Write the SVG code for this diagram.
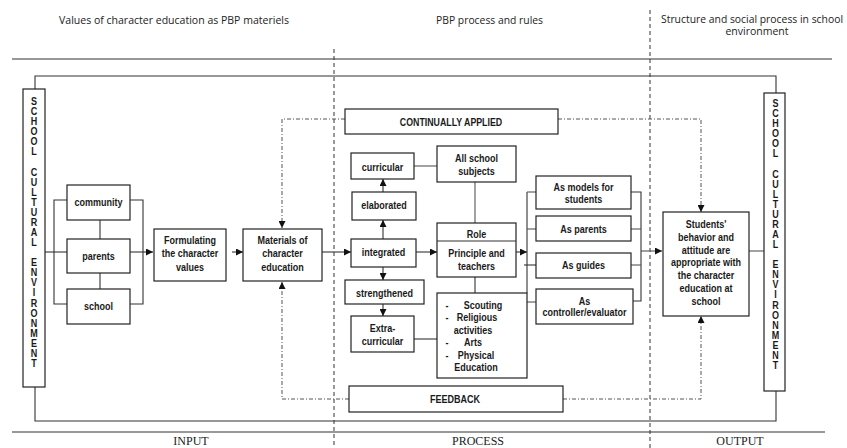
<svg xmlns="http://www.w3.org/2000/svg" width="847" height="448" viewBox="0 0 847 448">
<style>
.bg{fill:#fff}
.box{fill:#fff;stroke:#222;stroke-width:1.2}
.ln{fill:none;stroke:#333;stroke-width:1.1}
.lg{fill:none;stroke:#555;stroke-width:1.1}
.dd{fill:none;stroke:#555;stroke-width:1;stroke-dasharray:4,2,1,2}
.dv{fill:none;stroke:#333;stroke-width:1;stroke-dasharray:4,3}
.t{font-family:"Liberation Sans",Arial,sans-serif;font-weight:bold;font-size:11px;fill:#1a1a1a;text-anchor:middle}
.v{font-family:"Liberation Sans",Arial,sans-serif;font-weight:bold;font-size:10px;fill:#1a1a1a;text-anchor:middle}
.h{font-family:"Open Sans","Noto Sans",sans-serif;font-size:10.5px;fill:#222}
.f{font-family:"Liberation Serif","Times New Roman",serif;font-size:12px;fill:#222;text-anchor:middle}
</style>
<defs>
<marker id="ah" viewBox="0 0 10 10" refX="10" refY="5" markerWidth="8" markerHeight="7" markerUnits="userSpaceOnUse" orient="auto"><path d="M0,0 L10,5 L0,10 z" fill="#111"/></marker>
</defs>
<rect class="bg" x="0" y="0" width="847" height="448"/>

<g id="headers">
<text class="h" x="59" y="24" textLength="230" lengthAdjust="spacingAndGlyphs">Values of character education as PBP materiels</text>
<text class="h" x="436" y="24" textLength="107" lengthAdjust="spacingAndGlyphs">PBP process and rules</text>
<text class="h" x="661" y="23" textLength="182" lengthAdjust="spacingAndGlyphs">Structure and social process in school</text>
<text class="h" x="757" y="34.5" text-anchor="middle">environment</text>
<text class="f" x="191" y="445">INPUT</text>
<text class="f" x="478" y="445">PROCESS</text>
<text class="f" x="740" y="445">OUTPUT</text>
</g>

<g id="frame">
<line class="ln" x1="12" y1="59" x2="832" y2="59"/>
<line class="ln" x1="12" y1="432" x2="825" y2="432"/>
<line class="dv" x1="334" y1="49" x2="334" y2="448"/>
<line class="dv" x1="650" y1="10" x2="650" y2="448"/>
</g>

<g id="connectors">
<polyline class="ln" points="35,89 35,76 776,76 776,93"/>
<polyline class="ln" points="35,387 35,421 776,421 776,391"/>
<line class="ln" x1="45" y1="252" x2="67" y2="252"/>
<polyline class="ln" points="67,200 54,200 54,304 67,304"/>
<polyline class="ln" points="130,200 143,200 143,304 130,304"/>
<line class="ln" x1="100" y1="220" x2="100" y2="239"/>
<line class="ln" x1="100" y1="273" x2="100" y2="289"/>
<line class="ln" x1="130" y1="252" x2="153" y2="252" marker-end="url(#ah)"/>
<line class="ln" x1="232" y1="252" x2="243" y2="252" marker-end="url(#ah)"/>
<line class="ln" x1="322" y1="252" x2="351" y2="252" marker-end="url(#ah)"/>
<line class="ln" x1="383" y1="239" x2="383" y2="220" marker-end="url(#ah)"/>
<line class="ln" x1="383" y1="192" x2="383" y2="179" marker-end="url(#ah)"/>
<line class="ln" x1="383" y1="267" x2="383" y2="280" marker-end="url(#ah)"/>
<line class="ln" x1="383" y1="304" x2="383" y2="316" marker-end="url(#ah)"/>
<line class="ln" x1="416" y1="252" x2="437" y2="252" marker-end="url(#ah)"/>
<line class="lg" x1="414" y1="166" x2="437" y2="166"/>
<line class="lg" x1="475" y1="182" x2="475" y2="223"/>
<line class="ln" x1="475" y1="277" x2="475" y2="293"/>
<line class="ln" x1="414" y1="339" x2="437" y2="339"/>
<line class="ln" x1="516" y1="252" x2="527" y2="252" marker-end="url(#ah)"/>
<line class="ln" x1="527" y1="192" x2="527" y2="293"/>
<line class="lg" x1="527" y1="192" x2="536" y2="192"/>
<line class="lg" x1="527" y1="229" x2="536" y2="229"/>
<line class="ln" x1="524" y1="265" x2="536" y2="265"/>
<line class="lg" x1="527" y1="302" x2="536" y2="302"/>
<polyline class="ln" points="631,192 641,192 641,301 633,301"/>
<line class="lg" x1="631" y1="229" x2="641" y2="229"/>
<line class="lg" x1="631" y1="265" x2="641" y2="265"/>
<line class="lg" x1="641" y1="251" x2="662" y2="251" marker-end="url(#ah)"/>
<line class="lg" x1="749" y1="251" x2="764" y2="251"/>
<polyline class="dd" points="345,119 282,119 282,228" marker-end="url(#ah)"/>
<polyline class="dd" points="349,399 282,399 282,282" marker-end="url(#ah)"/>
<polyline class="dd" points="558,119 701,119 701,212" marker-end="url(#ah)"/>
<polyline class="dd" points="563,399 701,399 701,316" marker-end="url(#ah)"/>
</g>

<g id="env-left">
<rect class="box" x="23" y="89" width="22" height="298"/>
<text class="v" transform="translate(34,0) scale(0.9,1)"><tspan x="0" y="105">S</tspan><tspan x="0" y="115.1">C</tspan><tspan x="0" y="125.2">H</tspan><tspan x="0" y="135.2">O</tspan><tspan x="0" y="145.3">O</tspan><tspan x="0" y="155.4">L</tspan><tspan x="0" y="175.6">C</tspan><tspan x="0" y="185.6">U</tspan><tspan x="0" y="195.7">L</tspan><tspan x="0" y="205.8">T</tspan><tspan x="0" y="215.9">U</tspan><tspan x="0" y="226">R</tspan><tspan x="0" y="236">A</tspan><tspan x="0" y="246.1">L</tspan><tspan x="0" y="266.3">E</tspan><tspan x="0" y="276.4">N</tspan><tspan x="0" y="286.4">V</tspan><tspan x="0" y="296.5">I</tspan><tspan x="0" y="306.6">R</tspan><tspan x="0" y="316.7">O</tspan><tspan x="0" y="326.8">N</tspan><tspan x="0" y="336.8">M</tspan><tspan x="0" y="346.9">E</tspan><tspan x="0" y="357">N</tspan><tspan x="0" y="367">T</tspan></text>
</g>

<g id="env-right">
<rect class="box" x="764" y="93" width="21" height="298"/>
<text class="v" transform="translate(775.5,0) scale(0.9,1)"><tspan x="0" y="107">S</tspan><tspan x="0" y="117.1">C</tspan><tspan x="0" y="127.2">H</tspan><tspan x="0" y="137.2">O</tspan><tspan x="0" y="147.3">O</tspan><tspan x="0" y="157.4">L</tspan><tspan x="0" y="177.6">C</tspan><tspan x="0" y="187.6">U</tspan><tspan x="0" y="197.7">L</tspan><tspan x="0" y="207.8">T</tspan><tspan x="0" y="217.9">U</tspan><tspan x="0" y="228">R</tspan><tspan x="0" y="238">A</tspan><tspan x="0" y="248.1">L</tspan><tspan x="0" y="268.3">E</tspan><tspan x="0" y="278.4">N</tspan><tspan x="0" y="288.4">V</tspan><tspan x="0" y="298.5">I</tspan><tspan x="0" y="308.6">R</tspan><tspan x="0" y="318.7">O</tspan><tspan x="0" y="328.8">N</tspan><tspan x="0" y="338.8">M</tspan><tspan x="0" y="348.9">E</tspan><tspan x="0" y="359">N</tspan><tspan x="0" y="369">T</tspan></text>
</g>

<g id="community"><rect class="box" x="67" y="185" width="63" height="35"/><text class="t" transform="translate(98.5,206) scale(.82,1)">community</text></g>
<g id="parents"><rect class="box" x="67" y="239" width="63" height="34"/><text class="t" transform="translate(98.5,260) scale(.82,1)">parents</text></g>
<g id="school"><rect class="box" x="67" y="289" width="63" height="35"/><text class="t" transform="translate(98.5,310) scale(.82,1)">school</text></g>
<g id="formulating"><rect class="box" x="154" y="229" width="72" height="52"/><text class="t" transform="translate(190,244) scale(.82,1)">Formulating</text><text class="t" transform="translate(190,257) scale(.82,1)">the character</text><text class="t" transform="translate(190,271) scale(.82,1)">values</text></g>
<g id="materials"><rect class="box" x="243" y="229" width="79" height="52"/><text class="t" transform="translate(282.5,244) scale(.82,1)">Materials of</text><text class="t" transform="translate(282.5,257) scale(.82,1)">character</text><text class="t" transform="translate(282.5,271) scale(.82,1)">education</text></g>
<g id="continually"><rect class="box" x="345" y="109" width="213" height="25"/><text class="t" transform="translate(451,126) scale(.8,1)">CONTINUALLY APPLIED</text></g>
<g id="feedback"><rect class="box" x="349" y="386" width="214" height="26"/><text class="t" transform="translate(455,403) scale(.82,1)">FEEDBACK</text></g>
<g id="curricular"><rect class="box" x="351" y="153" width="63" height="26"/><text class="t" transform="translate(382.5,171) scale(.82,1)">curricular</text></g>
<g id="elaborated"><rect class="box" x="352" y="192" width="64" height="28"/><text class="t" transform="translate(384,209) scale(.82,1)">elaborated</text></g>
<g id="integrated"><rect class="box" x="351" y="239" width="65" height="28"/><text class="t" transform="translate(383.5,256) scale(.82,1)">integrated</text></g>
<g id="strengthened"><rect class="box" x="345" y="280" width="79" height="24"/><text class="t" transform="translate(384.5,297) scale(.82,1)">strengthened</text></g>
<g id="extracurricular"><rect class="box" x="351" y="316" width="63" height="36"/><text class="t" transform="translate(382.5,332) scale(.82,1)">Extra-</text><text class="t" transform="translate(382.5,345) scale(.82,1)">curricular</text></g>
<g id="allschool"><rect class="box" x="437" y="146" width="79" height="36"/><text class="t" transform="translate(476.5,162) scale(.82,1)">All school</text><text class="t" transform="translate(476.5,175) scale(.82,1)">subjects</text></g>
<g id="role"><rect class="box" x="437" y="223" width="79" height="54"/><line class="ln" x1="437" y1="241" x2="516" y2="241"/><text class="t" transform="translate(476.5,238) scale(.82,1)">Role</text><text class="t" transform="translate(476.5,257) scale(.82,1)">Principle and</text><text class="t" transform="translate(476.5,270) scale(.82,1)">teachers</text></g>
<g id="activities"><rect class="box" x="437" y="293" width="90" height="85"/>
<text class="t" transform="translate(447,309) scale(.82,1)">-</text><text class="t" transform="translate(483,309) scale(.82,1)">Scouting</text>
<text class="t" transform="translate(447,321) scale(.82,1)">-</text><text class="t" transform="translate(477,321) scale(.82,1)">Religious</text>
<text class="t" transform="translate(473,334) scale(.82,1)">activities</text>
<text class="t" transform="translate(447,346) scale(.82,1)">-</text><text class="t" transform="translate(473,346) scale(.82,1)">Arts</text>
<text class="t" transform="translate(447,359) scale(.82,1)">-</text><text class="t" transform="translate(476,359) scale(.82,1)">Physical</text>
<text class="t" transform="translate(476,371) scale(.82,1)">Education</text></g>
<g id="models"><rect class="box" x="536" y="176" width="95" height="33"/><text class="t" transform="translate(583.5,191) scale(.82,1)">As models for</text><text class="t" transform="translate(583.5,203) scale(.82,1)">students</text></g>
<g id="asparents"><rect class="box" x="536" y="216" width="95" height="25"/><text class="t" transform="translate(583.5,233) scale(.82,1)">As parents</text></g>
<g id="guides"><rect class="box" x="536" y="253" width="95" height="25"/><text class="t" transform="translate(583.5,269) scale(.82,1)">As guides</text></g>
<g id="controller"><rect class="box" x="536" y="289" width="97" height="35"/><text class="t" transform="translate(584.5,305) scale(.82,1)">As</text><text class="t" transform="translate(584.5,316) scale(.82,1)">controller/evaluator</text></g>
<g id="students"><rect class="box" x="663" y="212" width="86" height="104"/>
<text class="t" transform="translate(706,228) scale(.82,1)">Students'</text>
<text class="t" transform="translate(706,240.8) scale(.82,1)">behavior and</text>
<text class="t" transform="translate(706,253.6) scale(.82,1)">attitude are</text>
<text class="t" transform="translate(706,266.4) scale(.82,1)">appropriate with</text>
<text class="t" transform="translate(706,279.2) scale(.82,1)">the character</text>
<text class="t" transform="translate(706,292) scale(.82,1)">education at</text>
<text class="t" transform="translate(706,304.8) scale(.82,1)">school</text></g>
</svg>
